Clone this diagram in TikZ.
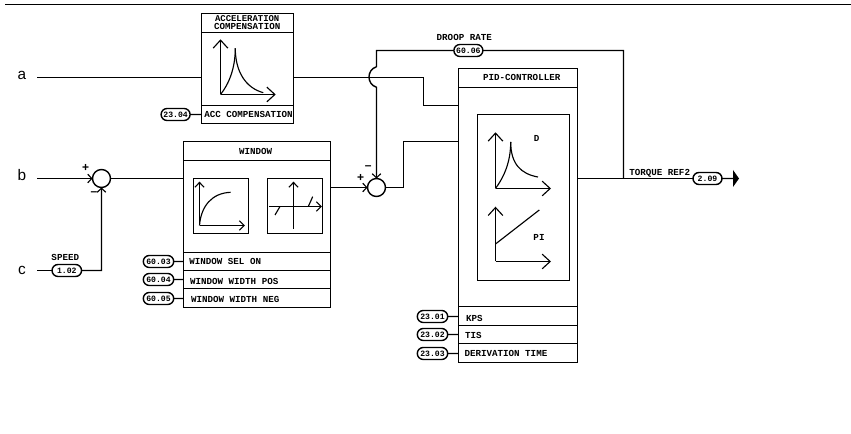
\documentclass[tikz,border=0pt]{standalone}
\usepackage{fontspec}
\setmainfont{Liberation Sans}
\setmonofont{Liberation Mono}
\usetikzlibrary{arrows.meta,shapes.misc}
\tikzset{
  wire/.style={line width=1.05pt,black},
  thin wire/.style={line width=0.85pt,black},
  axis/.style={line width=1pt,-{Straight Barb[length=6pt,width=11pt,line width=0.85pt]}},
  smallaxis/.style={line width=1pt,-{Straight Barb[length=3.6pt,width=7pt,line width=0.85pt]}},
  sumtip/.style={-{Straight Barb[length=3pt,width=6.5pt,line width=0.85pt]}},
  box/.style={draw,line width=1.05pt,inner sep=0pt,outer sep=0pt,anchor=north west},
  sumcirc/.style={draw,circle,line width=1.05pt,minimum size=13.5pt,inner sep=0pt,outer sep=0pt},
  badge/.style={draw,rounded rectangle,line width=1.05pt,minimum height=9pt,inner sep=0pt,outer sep=0pt,font=\ttfamily\bfseries\fontsize{6.1}{6.1}\selectfont,anchor=center},
  lab/.style={inner sep=0pt,outer sep=0pt,font=\ttfamily\bfseries\fontsize{6.9}{6.9}\selectfont,align=center},
  sig/.style={inner sep=0pt,outer sep=0pt,font=\fontsize{11.5}{12}\selectfont},
  sgn/.style={inner sep=0pt,outer sep=0pt,font=\bfseries\fontsize{9}{9}\selectfont},
}
\newcommand{\blk}[5]{\node[box,minimum width={(#4-#2)*0.75pt},minimum height={(#5-#3)*0.75pt}] (#1) at (#2,#3) {};}
\newcommand{\bdg}[4]{\node[badge,minimum width={#4*0.75pt}] (#1) at (#2) {#3};}
\begin{document}
\begin{tikzpicture}[x=0.75pt,y=-0.75pt]
\useasboundingbox (0,0) rectangle (851,434);
% top rule
\coordinate (ruleL) at (5,4.5); \coordinate (ruleR) at (851,4.5);
\draw[wire] (ruleL) -- (ruleR);
% signal names
\node[sig] (a) at (22,75) {a};
\node[sig] (b) at (22,175) {b};
\node[sig] (c) at (22,270.5) {c};
\coordinate (aS) at (37,77.5); \coordinate (bS) at (37,178.5); \coordinate (cS) at (37,270.5);
% acceleration compensation
\blk{acc}{201.5}{13.5}{293.5}{123.5}
\coordinate (accA) at (201.5,32.5); \coordinate (accB) at (293.5,32.5);
\coordinate (accC) at (201.5,105.5); \coordinate (accD) at (293.5,105.5);
\draw[wire] (accA) -- (accB) (accC) -- (accD);
\node[lab] (accT) at (247.2,22.7) {\fontsize{6.7}{9}\selectfont ACCELERATION\\[-0.4pt]COMPENSATION};
\node[lab] (accP) at (248.5,114.5) {ACC COMPENSATION};
\bdg{b2304}{175.6,114.5}{23.04}{29}
\draw[wire] (b2304) -- (accC |- b2304);
\draw[axis] (220.5,94.5) -- (220.5,39.3);
\draw[axis] (220.5,94.5) -- (275.7,94.5);
\draw[thin wire] (220.5,94.5) .. controls (229,84) and (235.3,68) .. (235.3,48.3);
\draw[thin wire] (235.3,48.3) .. controls (235.3,72) and (246,88) .. (263.3,92.7);
% window
\blk{win}{183.5}{141.5}{330.5}{307.5}
\coordinate (w1) at (183.5,160.5); \coordinate (w1r) at (330.5,160.5);
\coordinate (w2) at (183.5,252.5); \coordinate (w2r) at (330.5,252.5);
\coordinate (w3) at (183.5,270.5); \coordinate (w3r) at (330.5,270.5);
\coordinate (w4) at (183.5,288.5); \coordinate (w4r) at (330.5,288.5);
\draw[wire] (w1) -- (w1r) (w2) -- (w2r) (w3) -- (w3r) (w4) -- (w4r);
\node[lab] (winT) at (255.7,151) {WINDOW};
\blk{g1}{193.5}{178.5}{248.5}{233.5}
\blk{g2}{267.5}{178.5}{322.5}{233.5}
\draw[smallaxis] (199.5,225.5) -- (199.5,181.7);
\draw[smallaxis] (199.5,225.5) -- (245,225.5);
\draw[thin wire] (199.5,225.5) .. controls (201,206) and (212,193) .. (230.7,192.3);
\draw[smallaxis] (293.5,229) -- (293.5,181.7);
\draw[smallaxis] (269.3,206.5) -- (322,206.5);
\draw[thin wire] (275,215) -- (280,206.5) (308.3,206.5) -- (312.7,196.7);
\node[lab,anchor=west] (wt1) at (189.3,261.5) {WINDOW SEL ON};
\node[lab,anchor=west] (wt2) at (190,281) {WINDOW WIDTH POS};
\node[lab,anchor=west] (wt3) at (191,299) {WINDOW WIDTH NEG};
\bdg{b6003}{158.5,261.5}{60.03}{30.4}
\bdg{b6004}{158.5,279.5}{60.04}{30.4}
\bdg{b6005}{158.5,298.5}{60.05}{30.4}
\draw[wire] (b6003) -- (w1 |- b6003);
\draw[wire] (b6004) -- (w1 |- b6004);
\draw[wire] (b6005) -- (w1 |- b6005);
% PID
\blk{pid}{458.5}{68.5}{577.5}{362.5}
\coordinate (p1) at (458.5,87.5); \coordinate (p1r) at (577.5,87.5);
\coordinate (p2) at (458.5,306.5); \coordinate (p2r) at (577.5,306.5);
\coordinate (p3) at (458.5,325.5); \coordinate (p3r) at (577.5,325.5);
\coordinate (p4) at (458.5,343.5); \coordinate (p4r) at (577.5,343.5);
\draw[wire] (p1) -- (p1r) (p2) -- (p2r) (p3) -- (p3r) (p4) -- (p4r);
\node[lab] (pidT) at (521.7,77.3) {PID-CONTROLLER};
\blk{pg}{477.5}{114.5}{569.5}{280.5}
\draw[axis] (495.5,188.5) -- (495.5,132.3);
\draw[axis] (495.5,188.5) -- (551,188.5);
\draw[thin wire] (495.5,188.5) .. controls (504,177) and (510.7,162) .. (510.7,142);
\draw[thin wire] (510.7,142) .. controls (510.7,164) and (521,174) .. (538,177);
\node[lab] (dT) at (536.7,138) {D};
\draw[axis] (495.5,261.5) -- (495.5,206.7);
\draw[axis] (495.5,261.5) -- (551,261.5);
\draw[thin wire] (495.5,244) -- (539.3,210);
\node[lab] (piT) at (539,237.7) {PI};
\node[lab,anchor=west] (kps) at (466,318) {KPS};
\node[lab,anchor=west] (tis) at (465,335.5) {TIS};
\node[lab,anchor=west] (dtm) at (464.5,353) {DERIVATION TIME};
\bdg{b2301}{432.5,316.5}{23.01}{30.4}
\bdg{b2302}{432.5,334.5}{23.02}{30.4}
\bdg{b2303}{432.5,353.5}{23.03}{30.4}
\draw[wire] (b2301) -- (p1 |- b2301);
\draw[wire] (b2302) -- (p1 |- b2302);
\draw[wire] (b2303) -- (p1 |- b2303);
% summing junctions
\node[sumcirc] (s1) at (101.5,178.5) {};
\node[sumcirc] (s2) at (376.5,187.5) {};
\node[sgn] (s1p) at (85.7,168) {+};
\node[sgn] (s1m) at (94,194) {--};
\node[sgn] (s2p) at (360.7,177.7) {+};
\node[sgn] (s2m) at (368.3,168) {--};
% connectors
\draw[wire] (aS) -- (aS -| acc.west);
\coordinate (k1) at (423.5,77.5); \coordinate (k2) at (423.5,105.5);
\draw[wire] (k1 -| acc.east) -- (k1) -- (k2) -- (k2 -| pid.west);
\draw[wire] (bS) -- (s1.west);
\coordinate (t1) at (84,178.5);
\draw[wire,sumtip] (t1) -- (s1.west);
\draw[wire] (s1.east) -- (s1.east -| win.west);
\bdg{b102}{66.8,270.5}{1.02}{29.5}
\node[lab] (speed) at (65.3,257.7) {SPEED};
\draw[wire] (cS) -- (b102);
\draw[wire] (b102) -- (s1 |- b102) -- (s1.south);
\coordinate (t2) at (101.5,200);
\draw[wire,sumtip] (t2) -- (s1.south);
\draw[wire] (s2.west -| win.east) -- (s2.west);
\coordinate (t3) at (352,187.5);
\draw[wire,sumtip] (t3) -- (s2.west);
\coordinate (k3) at (403.5,187.5); \coordinate (k4) at (403.5,141.5);
\draw[wire] (s2.east) -- (k3) -- (k4) -- (k4 -| pid.west);
% droop
\bdg{b6006}{468.4,50.5}{60.06}{29}
\node[lab] (droop) at (464.3,37.7) {DROOP RATE};
\coordinate (jT) at (376.5,50.5); \coordinate (j1) at (376.5,66.7); \coordinate (j2) at (376.5,87.3);
\coordinate (o1) at (623.5,50.5); \coordinate (o2) at (623.5,178.5);
\draw[wire] (o2) -- (o1) -- (b6006);
\draw[wire] (b6006) -- (jT) -- (j1) .. controls (366.5,70) and (366.5,84) .. (j2) -- (s2.north);
\coordinate (t4) at (376.5,170);
\draw[wire,sumtip] (t4) -- (s2.north);
% output
\bdg{b209}{707.5,178.5}{2.09}{29}
\node[lab,anchor=west] (tq) at (629.3,173.3) {TORQUE REF2};
\draw[wire] (o2 -| pid.east) -- (b209);
\coordinate (e1) at (733,178.5);
\draw[wire] (b209) -- (e1);
\coordinate (e2) at (733,170); \coordinate (e3) at (739,178.5); \coordinate (e4) at (733,187);
\fill (e2) -- (e3) -- (e4) -- cycle;
\end{tikzpicture}
\end{document}
